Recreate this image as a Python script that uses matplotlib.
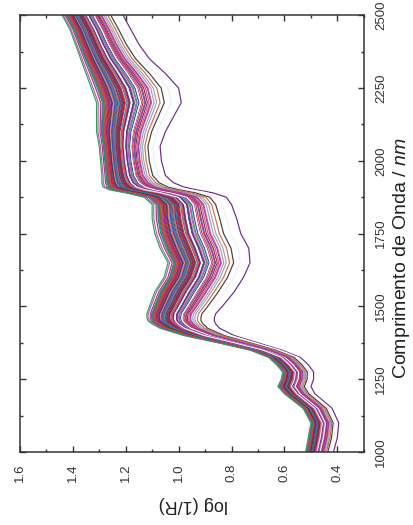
import numpy as np
import matplotlib
matplotlib.use("Agg")
import matplotlib.pyplot as plt
from matplotlib.ticker import MultipleLocator, FormatStrFormatter

plt.rcParams['font.family'] = ['Liberation Sans', 'DejaVu Sans']
plt.rcParams['mathtext.fontset'] = 'custom'
plt.rcParams['mathtext.it'] = 'Liberation Sans:italic'
plt.rcParams['mathtext.rm'] = 'Liberation Sans'

# wavelength grid (nm) and the two outer spectra
wavelength = [1000, 1050, 1100, 1150, 1200, 1225, 1250, 1275, 1300, 1325,
              1350, 1375, 1400, 1425, 1440, 1450, 1460, 1475, 1500, 1550,
              1600, 1650, 1700, 1750, 1800, 1850, 1875, 1890, 1900, 1910,
              1925, 1950, 2000, 2050, 2100, 2150, 2200, 2250, 2300, 2350,
              2400, 2450, 2500]
upper_env = [0.52, 0.51, 0.50, 0.53, 0.60, 0.625, 0.612, 0.607, 0.63, 0.66,
             0.73, 0.85, 0.98, 1.07, 1.10, 1.115, 1.12, 1.12, 1.11, 1.09,
             1.055, 1.04, 1.07, 1.09, 1.10, 1.10, 1.13, 1.20, 1.26, 1.285,
             1.29, 1.29, 1.295, 1.30, 1.31, 1.31, 1.31, 1.33, 1.35, 1.37,
             1.39, 1.41, 1.44]
lower_env = [0.415, 0.40, 0.395, 0.42, 0.485, 0.50, 0.49, 0.49, 0.51, 0.54,
             0.61, 0.70, 0.79, 0.845, 0.86, 0.865, 0.865, 0.86, 0.835, 0.79,
             0.755, 0.73, 0.735, 0.765, 0.78, 0.80, 0.82, 0.87, 0.93, 0.98,
             1.02, 1.05, 1.065, 1.07, 1.05, 1.02, 0.99, 1.00, 1.05, 1.11,
             1.15, 1.18, 1.21]

# position of each sample between the outer spectra (0 = lowest, 1 = highest)
sample_frac = [0.62, 0.00, 0.81, 0.47, 0.93, 0.35, 0.70, 0.57, 0.88, 0.12,
               0.66, 0.43, 0.77, 0.98, 0.52, 0.84, 0.29, 0.73, 0.60, 0.91,
               0.07, 0.55, 0.79, 0.40, 0.68, 0.86, 0.50, 0.95, 0.64, 0.38,
               0.75, 0.20, 0.83, 0.58, 0.45, 0.71, 0.90, 0.53, 1.00, 0.67,
               0.32, 0.80, 0.61, 0.87, 0.48, 0.74, 0.25, 0.69, 0.85, 0.56,
               0.78, 0.42, 0.92, 0.63, 0.72, 0.82, 0.36, 0.59, 0.89, 0.76]

x_ticks = [1.6, 1.4, 1.2, 1.0, 0.8, 0.6, 0.4]
y_ticks = [1000, 1250, 1500, 1750, 2000, 2250, 2500]

colors = ['#c8203c', '#6a2a8a', '#3050c0', '#b03080', '#208c8c', '#e05a7a',
          '#8a3030', '#404040', '#9a40b0', '#f0f0f0', '#d04040', '#4a70b0',
          '#7a6a30', '#c060a0', '#30a060', '#902050', '#a0a0c0', '#e08080',
          '#5a3070', '#b04848', '#ffffff', '#6080a0', '#d07040', '#803060']

wl = np.array(wavelength)
up = np.array(upper_env)
lo = np.array(lower_env)

fig = plt.figure(figsize=(4.13, 5.25), dpi=100)
ax = fig.add_axes([0.048, 0.139, 0.833, 0.832])

for i, f in enumerate(sample_frac):
    ax.plot(lo + f * (up - lo), wl, color=colors[i % len(colors)], lw=0.85)

ax.set_xlim(1.6, 0.3)
ax.set_ylim(1000, 2500)
ax.set_xticks(x_ticks)
ax.set_yticks(y_ticks)
ax.xaxis.set_minor_locator(MultipleLocator(0.1))
ax.yaxis.set_minor_locator(MultipleLocator(125))
ax.xaxis.set_major_formatter(FormatStrFormatter('%.1f'))

ax.yaxis.tick_right()
ax.tick_params(which='both', direction='in', top=True, bottom=True,
               left=True, right=True, labelleft=False, labelright=True,
               colors='#333333', labelsize=9.5, width=1)
ax.tick_params(which='major', length=4, pad=8)
ax.tick_params(which='minor', length=2.5)
ax.tick_params(axis='x', labelrotation=90)
ax.tick_params(axis='y', labelrotation=90)
for lab in ax.get_yticklabels():
    lab.set_va('center')
for s in ax.spines.values():
    s.set_linewidth(1.1)
    s.set_color('#333333')

# axis titles, turned like the rest of the picture
fig.text(193 / 413, 1 - 505 / 525, 'log (1/R)', fontsize=13, rotation=180,
         ha='center', va='center', color='#222222')
fig.text(401 / 413, 1 - 258 / 525, 'Comprimento de Onda / $\\it{nm}$',
         fontsize=14, rotation=90, ha='center', va='center', color='#222222')

fig.savefig('out.png', dpi=100)
